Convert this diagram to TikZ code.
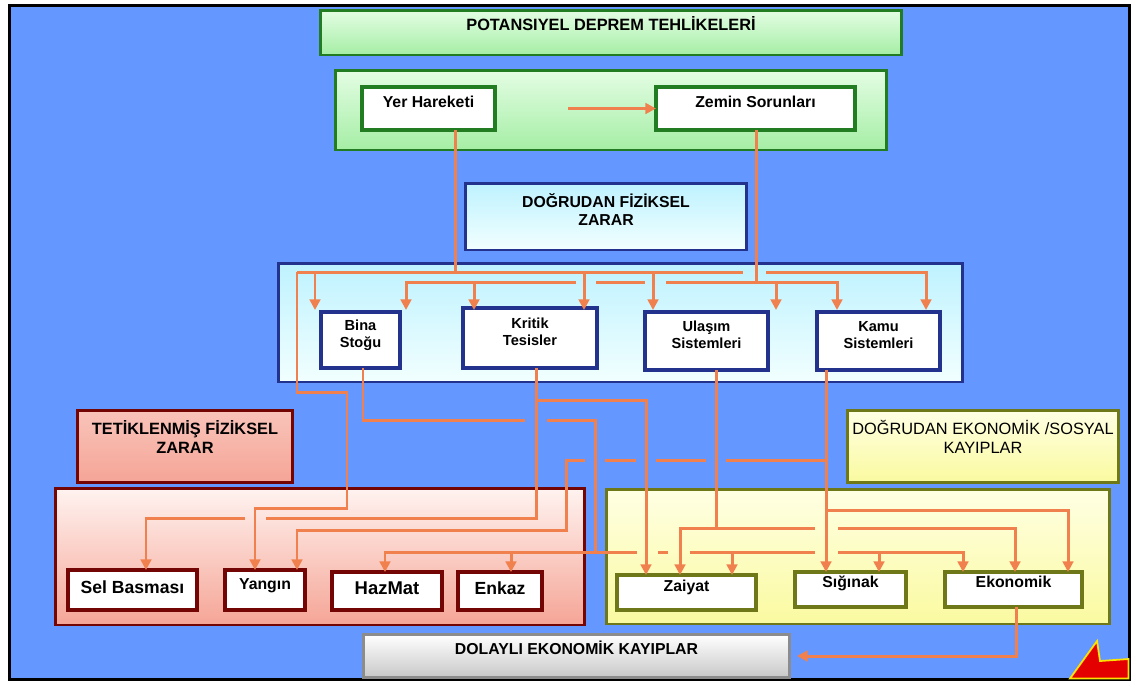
\documentclass[tikz,border=0pt]{standalone}
\usepackage{fontspec}
\setmainfont{Liberation Sans}
\usetikzlibrary{arrows.meta,calc}
\definecolor{arka}{RGB}{100,151,255}
\definecolor{yesilc}{RGB}{34,125,34}
\definecolor{yesila}{RGB}{228,253,228}
\definecolor{yesilb}{RGB}{165,238,165}
\definecolor{mavic}{RGB}{35,50,140}
\definecolor{mavia}{RGB}{190,242,255}
\definecolor{mavib}{RGB}{242,255,255}
\definecolor{kirmizic}{RGB}{115,5,5}
\definecolor{kirmizia}{RGB}{255,243,240}
\definecolor{kirmizib}{RGB}{245,165,150}
\definecolor{saric}{RGB}{110,120,25}
\definecolor{saria}{RGB}{255,255,228}
\definecolor{sarib}{RGB}{250,250,160}
\definecolor{gric}{RGB}{140,140,140}
\definecolor{gria}{RGB}{200,200,200}
\definecolor{okc}{RGB}{240,128,78}
\tikzset{
  kutu/.style={draw, line width=1.7pt, inner sep=0pt, outer sep=0pt},
  yesil/.style={kutu, draw=yesilc, top color=yesila, bottom color=yesilb},
  mavi/.style={kutu, draw=mavic, top color=mavia, bottom color=mavib},
  kirmizi/.style={kutu, draw=kirmizic, top color=kirmizia, bottom color=kirmizib},
  sari/.style={kutu, draw=saric, top color=saria, bottom color=sarib},
  gri/.style={kutu, draw=gric, top color=white, bottom color=gria},
  ic/.style={kutu, fill=white, line width=2.3pt},
  yazi/.style={font=\bfseries\fontsize{9}{10.5}\selectfont, align=center, yshift=0.14cm},
  kucuk/.style={yazi, font=\bfseries\fontsize{8.3}{9.7}\selectfont},
  buyuk/.style={yazi, font=\bfseries\fontsize{10}{12}\selectfont},
  hat/.style={draw=okc, line width=1.7pt},
  ok/.style={hat, -{Triangle[length=6pt,width=6pt]}},
}
\begin{document}
\begin{tikzpicture}[x=0.02cm,y=-0.02cm]
\useasboundingbox (0,0) rectangle (1135,681);
\fill[white] (0,0) rectangle (1135,681);
\filldraw[fill=arka, draw=black, line width=1.7pt] (9.5,5.5) rectangle (1129.5,679.5);
\filldraw[fill=red!90!black, draw=yellow!85!orange, line width=1pt] (1070,678.5) -- (1097,641) -- (1100,661) -- (1128.5,659) -- (1128.5,678.5) -- cycle;

% tehlikeler
\node[yesil, minimum width=11.64cm, minimum height=0.9cm, label={[yazi,yshift=0.03cm,font=\bfseries\fontsize{9.3}{11}\selectfont]center:POTANSIYEL DEPREM TEHLİKELERİ}] (pot) at (611,32.5) {};
\node[yesil, minimum width=11.04cm, minimum height=1.6cm] (haz) at (611,110) {};
\node[ic, draw=yesilc, minimum width=2.66cm, minimum height=0.86cm, label={[yazi]center:Yer Hareketi}] (yer) at (428.5,108.5) {};
\node[ic, draw=yesilc, minimum width=3.98cm, minimum height=0.86cm, label={[yazi]center:Zemin Sorunları}] (zem) at (755.5,108.5) {};

% dogrudan fiziksel zarar
\node[mavi, minimum width=5.64cm, minimum height=1.34cm, label={[yazi]center:DOĞRUDAN FİZİKSEL\\ZARAR}] (dfz) at (606,216.5) {};
\node[mavi, minimum width=13.7cm, minimum height=2.38cm] (fiz) at (620.5,322.5) {};
\node[ic, draw=mavic, minimum width=1.58cm, minimum height=1.12cm, label={[kucuk,yshift=-0.04cm]center:Bina\\Stoğu}] (bina) at (360.5,340) {};
\node[ic, draw=mavic, minimum width=2.68cm, minimum height=1.2cm, label={[kucuk,yshift=-0.02cm]center:Kritik\\Tesisler}] (kritik) at (530,338) {};
\node[ic, draw=mavic, minimum width=2.46cm, minimum height=1.16cm, label={[kucuk,yshift=-0.02cm]center:Ulaşım\\Sistemleri}] (ulasim) at (706.5,341) {};
\node[ic, draw=mavic, minimum width=2.46cm, minimum height=1.16cm, label={[kucuk,yshift=-0.02cm]center:Kamu\\Sistemleri}] (kamu) at (878.5,341) {};

% tetiklenmis fiziksel zarar
\node[kirmizi, top color=kirmizia!40!kirmizib, minimum width=4.32cm, minimum height=1.44cm, label={[yazi,yshift=0.04cm,font=\bfseries\fontsize{9.3}{10.5}\selectfont]center:TETİKLENMİŞ FİZİKSEL\\ZARAR}] (tfz) at (185,446) {};
\node[kirmizi, minimum width=10.6cm, minimum height=2.74cm] (tet) at (320,556.5) {};
\node[ic, draw=kirmizic, minimum width=2.58cm, minimum height=0.8cm, label={[buyuk,yshift=-0.08cm]center:Sel Basması}] (sel) at (132.5,590) {};
\node[ic, draw=kirmizic, minimum width=1.6cm, minimum height=0.8cm, label={[yazi,yshift=-0.06cm]center:Yangın}] (yangin) at (265,590) {};
\node[ic, draw=kirmizic, minimum width=2.2cm, minimum height=0.76cm, label={[buyuk,yshift=-0.08cm,font=\bfseries\fontsize{10.5}{12}\selectfont]center:HazMat}] (hazmat) at (387,591) {};
\node[ic, draw=kirmizic, minimum width=1.68cm, minimum height=0.76cm, label={[buyuk,yshift=-0.08cm]center:Enkaz}] (enkaz) at (500,591) {};

% dogrudan ekonomik / sosyal kayiplar
\node[sari, minimum width=5.44cm, minimum height=1.44cm, label={[yazi,yshift=0.04cm,font=\fontsize{9.3}{10.5}\selectfont]center:DOĞRUDAN EKONOMİK /SOSYAL\\KAYIPLAR}] (dek) at (983,446) {};
\node[sari, minimum width=10.08cm, minimum height=2.7cm] (eko) at (858,556.5) {};
\node[ic, draw=saric, minimum width=2.78cm, minimum height=0.7cm, label={[yazi,yshift=-0.04cm]center:Zaiyat}] (zaiyat) at (686.5,592.5) {};
\node[ic, draw=saric, minimum width=2.22cm, minimum height=0.7cm, label={[yazi,yshift=-0.02cm]center:Sığınak}] (siginak) at (850.5,589.5) {};
\node[ic, draw=saric, minimum width=2.74cm, minimum height=0.7cm, label={[yazi,yshift=0.02cm]center:Ekonomik}] (ekonomik) at (1013.5,589.5) {};

% dolayli
\node[gri, minimum width=8.54cm, minimum height=0.86cm, label={[yazi,yshift=0.02cm]center:DOLAYLI EKONOMİK KAYIPLAR}] (dolayli) at (576.5,656) {};

% ust baglantilar
\draw[ok] ($(yer.east)+(73,0)$) -- (zem.west);
\coordinate (y1) at (455,272);
\coordinate (z1) at (756,282);
\draw[hat] (yer.south -| y1) -- (y1);
\draw[hat] (zem.south -| z1) -- (z1);
\draw[hat] (297,272) -- (743,272);
\draw[ok] (766,272) -- (926,272) -- (926,310);
\foreach \x in {315,584,653} \draw[ok] (\x,272) -- (\x,310);
\draw[ok] (576,282) -- (406,282) -- (406,310);
\draw[hat] (596,282) -- (645,282);
\draw[ok] (666,282) -- (837,282) -- (837,310);
\foreach \x in {474,776} \draw[ok] (\x,282) -- (\x,310);
\draw[ok] (297,272) -- (297,392) -- (347,392) -- (347,508) -- (255,508) -- (yangin.north -| 255,0);

% bina stogu
\draw[hat] (bina.south -| 363,0) -- (363,420) -- (525,420);
\draw[hat] (547,420) -- (595,420) -- (595,552);
\draw[ok] (637,552) -- (385,552) -- (hazmat.north -| 385,0);
\draw[hat] (658,552) -- (668,552);
\draw[hat] (690,552) -- (815,552);
\draw[ok] (838,552) -- (963,552) -- (ekonomik.north -| 963,0);
\foreach \x/\y in {511/572,732/575,879/572} \draw[ok] (\x,552) -- (\x,\y);

% kritik tesisler
\draw[hat] (kritik.south -| 536,0) -- (536,518) -- (266,518);
\draw[ok] (245,518) -- (146,518) -- (sel.north -| 146,0);
\draw[ok] (536,400) -- (646,400) -- (zaiyat.north -| 646,0);

% kamu sistemleri
\draw[ok] (kamu.south -| 826,0) -- (siginak.north -| 826,0);
\draw[hat] (826,460) -- (726,460);
\draw[hat] (706,460) -- (656,460);
\draw[hat] (636,460) -- (605,460);
\draw[ok] (585,460) -- (566,460) -- (566,530) -- (297,530) -- (yangin.north -| 297,0);
\draw[ok] (826,510) -- (1068,510) -- (ekonomik.north -| 1068,0);

% ulasim sistemleri
\draw[hat] (ulasim.south -| 716,0) -- (716,528);
\draw[ok] (815,528) -- (680,528) -- (zaiyat.north -| 680,0);
\draw[ok] (838,528) -- (1015,528) -- (ekonomik.north -| 1015,0);

% dolayli kayiplar
\draw[ok] (ekonomik.south -| 1016,0) -- (1016,656) -- ($(dolayli.east)+(7,0)$);
\end{tikzpicture}
\end{document}
